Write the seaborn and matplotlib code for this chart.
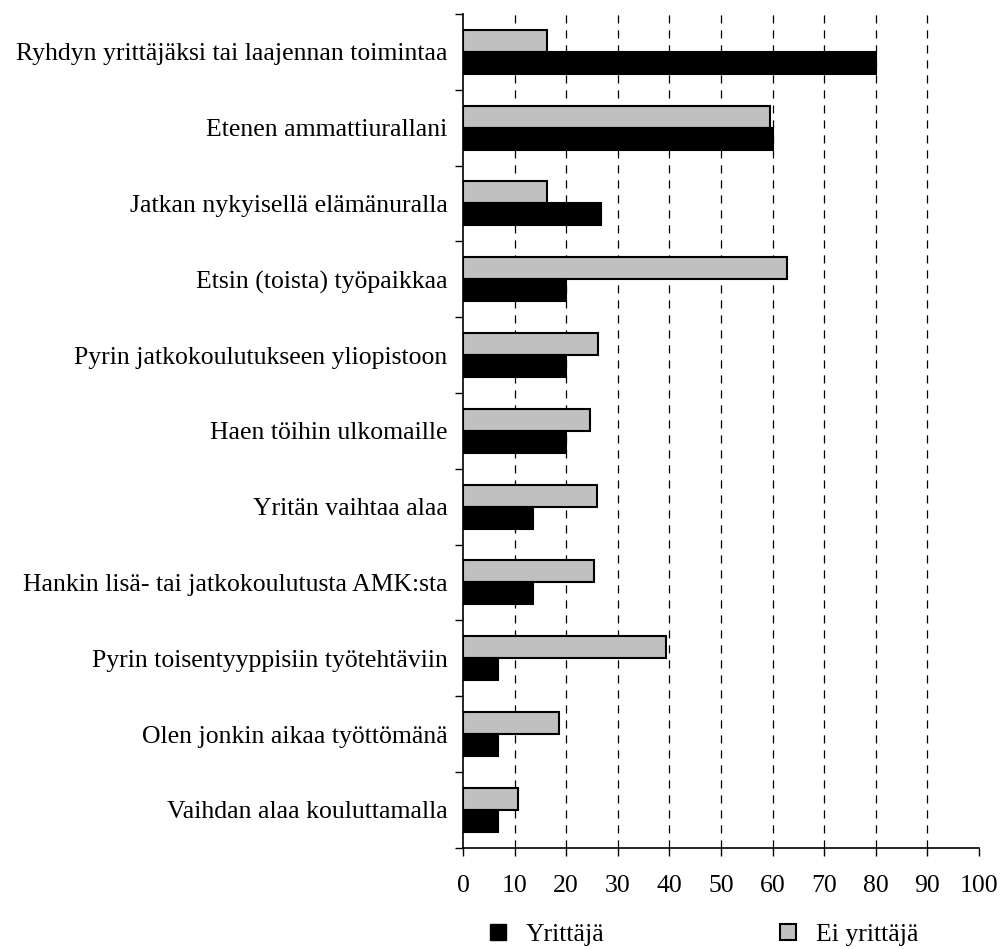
import matplotlib
matplotlib.use("Agg")
import matplotlib.pyplot as plt
import seaborn as sns
import pandas as pd
from matplotlib.lines import Line2D

categories = [
    "Ryhdyn yrittäjäksi tai laajennan toimintaa",
    "Etenen ammattiurallani",
    "Jatkan nykyisellä elämänuralla",
    "Etsin (toista) työpaikkaa",
    "Pyrin jatkokoulutukseen yliopistoon",
    "Haen töihin ulkomaille",
    "Yritän vaihtaa alaa",
    "Hankin lisä- tai jatkokoulutusta AMK:sta",
    "Pyrin toisentyyppisiin työtehtäviin",
    "Olen jonkin aikaa työttömänä",
    "Vaihdan alaa kouluttamalla",
]
yrittaja = [80, 60, 26.8, 20, 20, 20, 13.5, 13.5, 6.8, 6.8, 6.8]
ei_yrittaja = [16.3, 59.5, 16.3, 62.8, 26.2, 24.7, 25.9, 25.4, 39.4, 18.6, 10.6]
series = ["Ei yrittäjä", "Yrittäjä"]
xticks = [0, 10, 20, 30, 40, 50, 60, 70, 80, 90, 100]

df = pd.DataFrame({
    "cat": categories * 2,
    "value": ei_yrittaja + yrittaja,
    "group": [series[0]] * len(categories) + [series[1]] * len(categories),
})

sns.set_style("white")
plt.rcParams["font.family"] = ["Liberation Serif", "DejaVu Serif"]
plt.rcParams["text.color"] = "black"
plt.rcParams["xtick.color"] = "black"
plt.rcParams["ytick.color"] = "black"

FS = 18.5

fig = plt.figure(figsize=(10.03, 9.49), dpi=100)
ax = fig.add_axes([463 / 1003, 101.3 / 949, 516 / 1003, 833.7 / 949])

palette = {"Ei yrittäjä": "#C0C0C0", "Yrittäjä": "#000000"}
sns.barplot(data=df, y="cat", x="value", hue="group", hue_order=series,
            order=categories, palette=palette, orient="h", width=0.58,
            edgecolor="black", linewidth=1.5, saturation=1, ax=ax, legend=False)

ax.set_xlim(0, 100)
ax.set_ylim(len(categories) - 0.5, -0.5)
ax.set_xticks(xticks)
ax.set_xticklabels([str(t) for t in xticks], fontsize=FS)
ax.set_xlabel("")
ax.set_ylabel("")
ax.tick_params(axis="x", which="major", bottom=True, direction="out", length=6,
               width=1, color="black", pad=14, labelcolor="black")
ax.tick_params(axis="y", which="major", left=True, length=0, pad=11,
               labelsize=FS, labelcolor="black")
ax.set_yticks([i - 0.5 for i in range(len(categories) + 1)], minor=True)
ax.tick_params(axis="y", which="minor", left=True, direction="out", length=6,
               width=1, color="black")

for t in xticks[1:-1]:
    ax.axvline(t, color="black", lw=0.9, linestyle=(0, (6.5, 5.5)), zorder=0)

for s in ["top", "right"]:
    ax.spines[s].set_visible(False)
for s in ["left", "bottom"]:
    ax.spines[s].set_color("black")
    ax.spines[s].set_linewidth(1.2)

h_black = Line2D([], [], marker="s", linestyle="none", markersize=12,
                 markerfacecolor="black", markeredgecolor="black", label="Yrittäjä")
h_grey = Line2D([], [], marker="s", linestyle="none", markersize=12,
                markerfacecolor="#C0C0C0", markeredgecolor="black",
                markeredgewidth=1.5, label="Ei yrittäjä")
y_leg = 1 - 934.5 / 949
for h, xl in [(h_black, 485), (h_grey, 775)]:
    fig.legend(handles=[h], loc="center left", bbox_to_anchor=(xl / 1003, y_leg),
               frameon=False, fontsize=FS, borderpad=0, borderaxespad=0,
               handlelength=1.0, handletextpad=0.59)

fig.savefig("out.png", dpi=100, facecolor="white")
